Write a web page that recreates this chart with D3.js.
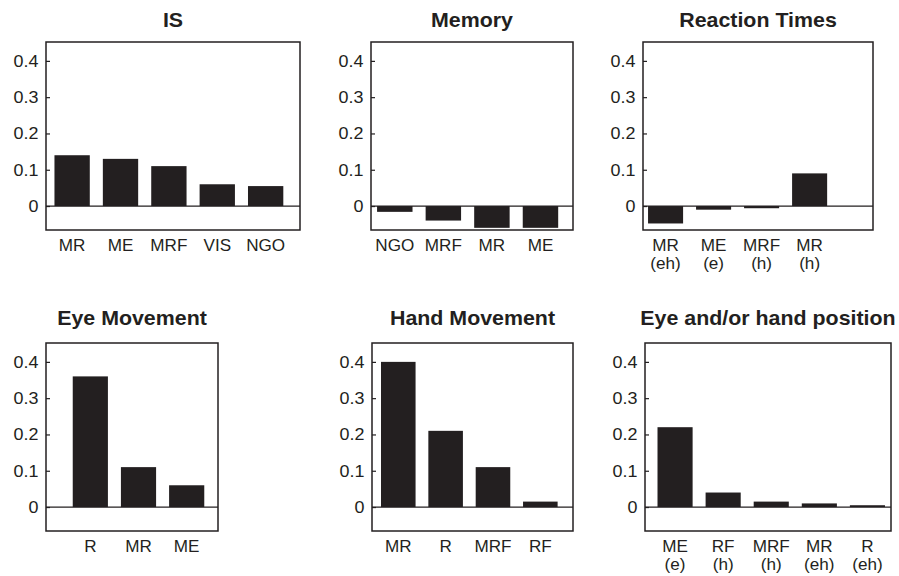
<!DOCTYPE html>
<html>
<head>
<meta charset="utf-8">
<script src="https://cdn.jsdelivr.net/npm/d3@7"></script>
<style>
  body { margin: 0; background: #fff; }
  svg { display: block; font-family: "Liberation Sans", Arial, sans-serif; }
</style>
</head>
<body>
<svg id="chart" width="899" height="576"></svg>
<script>
// --- DATOS ---
const titulos = ["IS", "Memory", "Reaction Times", "Eye Movement", "Hand Movement", "Eye and/or hand position"];

const isCats = [["MR"], ["ME"], ["MRF"], ["VIS"], ["NGO"]];
const isVals = [0.14, 0.13, 0.11, 0.06, 0.055];

const memCats = [["NGO"], ["MRF"], ["MR"], ["ME"]];
const memVals = [-0.016, -0.04, -0.06, -0.06];

const rtCats = [["MR", "(eh)"], ["ME", "(e)"], ["MRF", "(h)"], ["MR", "(h)"]];
const rtVals = [-0.048, -0.01, -0.006, 0.09];

const eyeCats = [["R"], ["MR"], ["ME"]];
const eyeVals = [0.36, 0.11, 0.06];

const handCats = [["MR"], ["R"], ["MRF"], ["RF"]];
const handVals = [0.40, 0.21, 0.11, 0.015];

const posCats = [["ME", "(e)"], ["RF", "(h)"], ["MRF", "(h)"], ["MR", "(eh)"], ["R", "(eh)"]];
const posVals = [0.22, 0.04, 0.015, 0.01, 0.005];

const yTicks = [0, 0.1, 0.2, 0.3, 0.4];
const yTickLabels = ["0", "0.1", "0.2", "0.3", "0.4"];
const yDomain = [-0.066, 0.452];

// --- LAYOUT (caja de cada panel y relleno del eje x en unidades de barra) ---
const paneles = [
  { cats: isCats,   vals: isVals,   left: 46,  right: 300, top: 42,  bottom: 230, xdom: [-0.54, 4.71], titleY: 26.5 },
  { cats: memCats,  vals: memVals,  left: 371, right: 573, top: 42,  bottom: 230, xdom: [-0.49, 3.67], titleY: 26.5 },
  { cats: rtCats,   vals: rtVals,   left: 643, right: 873, top: 42,  bottom: 230, xdom: [-0.47, 4.32], titleY: 26.5 },
  { cats: eyeCats,  vals: eyeVals,  left: 46,  right: 218, top: 343, bottom: 531, xdom: [-0.92, 2.65], titleY: 325 },
  { cats: handCats, vals: handVals, left: 372, right: 573, top: 343, bottom: 531, xdom: [-0.555, 3.69], titleY: 325 },
  { cats: posCats,  vals: posVals,  left: 645, right: 891, top: 343, bottom: 531, xdom: [-0.625, 4.49], titleY: 325 }
];

const color = "#231f20";
const stretch = 1.08; // el original esta un poco ensanchado
const barW = 0.73;

const svg = d3.select("#chart");

paneles.forEach((p, i) => {
  const x = d3.scaleLinear().domain(p.xdom).range([p.left, p.right]);
  const y = d3.scaleLinear().domain(yDomain).range([p.bottom, p.top]);
  const g = svg.append("g");

  // titulo
  g.append("text")
    .attr("transform", `translate(${(p.left + p.right) / 2},${p.titleY}) scale(${stretch},1)`)
    .attr("text-anchor", "middle")
    .attr("font-size", 19.8)
    .attr("font-weight", "bold")
    .attr("fill", color)
    .text(titulos[i]);

  // barras
  g.append("g")
    .selectAll("rect")
    .data(p.vals)
    .enter().append("rect")
    .attr("x", (d, j) => x(j - barW / 2))
    .attr("width", (d, j) => x(j + barW / 2) - x(j - barW / 2))
    .attr("y", d => y(Math.max(0, d)))
    .attr("height", d => Math.abs(y(d) - y(0)))
    .attr("fill", color);

  // linea cero
  g.append("line")
    .attr("x1", p.left).attr("x2", p.right)
    .attr("y1", y(0)).attr("y2", y(0))
    .attr("stroke", color)
    .attr("stroke-width", 1.2);

  // eje y con ticks hacia adentro
  const ejeY = d3.axisRight(y)
    .tickValues(yTicks)
    .tickSize(4)
    .tickFormat("");
  const gy = g.append("g")
    .attr("transform", `translate(${p.left},0)`)
    .call(ejeY);
  gy.select(".domain").remove();
  gy.selectAll(".tick line").attr("stroke", color).attr("stroke-width", 1.2);

  g.append("g")
    .selectAll("text")
    .data(yTicks)
    .enter().append("text")
    .attr("transform", d => `translate(${p.left - 7.5},${y(d) + 6}) scale(${stretch},1)`)
    .attr("text-anchor", "end")
    .attr("font-size", 16.6)
    .attr("fill", color)
    .text((d, j) => yTickLabels[j]);

  // caja
  g.append("rect")
    .attr("x", p.left).attr("y", p.top)
    .attr("width", p.right - p.left)
    .attr("height", p.bottom - p.top)
    .attr("fill", "none")
    .attr("stroke", color)
    .attr("stroke-width", 1.5);

  // etiquetas de categoria
  const etiq = g.append("g")
    .selectAll("text")
    .data(p.cats)
    .enter().append("text")
    .attr("transform", (d, j) => `translate(${x(j)},${p.bottom + 21}) scale(1.05,1)`)
    .attr("text-anchor", "middle")
    .attr("font-size", 16.3)
    .attr("fill", color);
  etiq.selectAll("tspan")
    .data(d => d)
    .enter().append("tspan")
    .attr("x", 0)
    .attr("y", (d, k) => k * 18.5)
    .text(d => d);
});
</script>
</body>
</html>
